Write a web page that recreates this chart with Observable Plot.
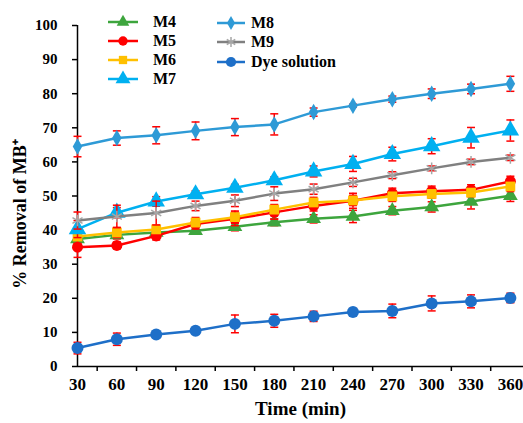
<!DOCTYPE html>
<html>
<head>
<meta charset="utf-8">
<script src="https://cdn.jsdelivr.net/npm/d3@7"></script>
<script src="https://cdn.jsdelivr.net/npm/@observablehq/plot@0.6"></script>
<style>
  body { margin: 0; background: #fff; }
  #wrap { position: relative; width: 523px; height: 423px; overflow: hidden; font-family: "Liberation Serif", "Times New Roman", serif; font-weight: bold; }
  .leg { position: absolute; font-size: 16px; line-height: 16px; white-space: nowrap; display: flex; align-items: center; }
  .leg svg { margin-right: 8px; overflow: visible; }
</style>
</head>
<body>
<div id="wrap"></div>
<script>
// ---- data ----
const time = [30, 60, 90, 120, 150, 180, 210, 240, 270, 300, 330, 360];
const xTickLabels = [30, 60, 90, 120, 150, 180, 210, 240, 270, 300, 330, 360];
const xTickMarks = [45, 75, 105, 135, 165, 195, 225, 255, 285, 315, 345];
const yTicks = [0, 10, 20, 30, 40, 50, 60, 70, 80, 90, 100];

const M4 = [37.4, 38.6, 39.3, 39.8, 41.0, 42.3, 43.3, 44.0, 45.7, 46.8, 48.4, 50.1];
const M4err = [1.5, 1.2, 1.5, 1.0, 1.2, 1.0, 1.2, 1.8, 1.2, 1.5, 2.2, 1.7];
const M5 = [35.0, 35.5, 38.3, 41.8, 43.3, 45.2, 47.1, 48.6, 50.8, 51.4, 51.8, 54.3];
const M5err = [3.0, 1.0, 1.2, 1.5, 2.0, 2.0, 1.5, 2.2, 1.5, 1.5, 1.5, 1.5];
const M6 = [38.1, 39.3, 40.2, 42.2, 43.8, 46.0, 48.1, 48.7, 49.9, 50.6, 51.0, 52.8];
const M6err = [2.0, 1.5, 1.2, 1.5, 1.8, 1.5, 1.5, 1.5, 1.5, 1.2, 1.2, 1.5];
const M7 = [40.3, 45.1, 48.4, 50.5, 52.4, 54.6, 57.2, 59.4, 62.3, 64.6, 67.1, 69.2];
const M7err = [2.5, 1.5, 1.4, 1.0, 1.0, 1.0, 1.6, 2.2, 2.0, 2.2, 3.0, 3.1];
const M8 = [64.5, 67.0, 67.8, 69.1, 70.2, 71.0, 74.6, 76.5, 78.4, 80.0, 81.4, 82.9];
const M8err = [3.0, 2.1, 2.5, 2.6, 2.5, 3.1, 1.2, 0.4, 0.9, 1.4, 1.4, 2.2];
const M9 = [42.8, 44.0, 45.0, 47.1, 48.6, 50.7, 52.0, 54.0, 56.1, 58.1, 60.0, 61.2];
const M9err = [2.5, 3.3, 3.5, 1.4, 1.7, 2.0, 1.5, 1.2, 1.0, 0.7, 0.8, 0.8];
const Dye = [5.4, 8.0, 9.4, 10.5, 12.5, 13.4, 14.7, 16.0, 16.3, 18.5, 19.1, 20.1];
const DyeErr = [1.7, 1.8, 0.8, 0.5, 2.6, 1.9, 1.5, 1.0, 2.0, 2.2, 1.9, 1.4];

const seriesNames = ["M4", "M5", "M6", "M7", "M8", "M9", "Dye solution"];
const seriesValues = [M4, M5, M6, M7, M8, M9, Dye];
const seriesErrors = [M4err, M5err, M6err, M7err, M8err, M9err, DyeErr];

// ---- styles ----
const styles = {
  "M4": {color: "#3DA53D", fill: "#3DA53D", stroke: "none", symbol: "triangle", r: 5.5},
  "M5": {color: "#FF0000", fill: "#FF0000", stroke: "none", symbol: "circle", r: 5.5},
  "M6": {color: "#FFC000", fill: "#FFC000", stroke: "none", symbol: "square", r: 5.5},
  "M7": {color: "#00B0F0", fill: "#00B0F0", stroke: "none", symbol: "triangle", r: 6.5},
  "M8": {color: "#2E9AD6", fill: "#2E9AD6", stroke: "none", symbol: "diamond", r: 5},
  "M9": {color: "#808080", fill: "none", stroke: "#A6A6A6", symbol: "asterisk", r: 5.5},
  "Dye solution": {color: "#1E6FC8", fill: "#1E6FC8", stroke: "none", symbol: "circle", r: 6}
};

const rows = [];
seriesNames.forEach((s, i) => time.forEach((t, j) => rows.push({
  series: s, time: t, value: seriesValues[i][j],
  lo: seriesValues[i][j] - seriesErrors[i][j], hi: seriesValues[i][j] + seriesErrors[i][j]
})));

const capSymbol = {
  draw(ctx, size) { const r = Math.sqrt(size / Math.PI); ctx.moveTo(-r, 0); ctx.lineTo(r, 0); }
};

const marks = [
  Plot.ruleX([30], {stroke: "#000", strokeWidth: 1.5}),
  Plot.ruleY([0], {stroke: "#000", strokeWidth: 1.5}),
  Plot.axisY({ticks: yTicks, tickSize: 5, tickPadding: 15, fontSize: 15, label: null, strokeWidth: 1.5}),
  Plot.axisX({ticks: xTickLabels, tickSize: 0, tickPadding: 11, fontSize: 17, label: null}),
  Plot.axisX({ticks: xTickMarks, tickSize: 5, tickFormat: () => "", label: null, strokeWidth: 1.5}),
  Plot.text(["Time (min)"], {frameAnchor: "bottom", dy: 48, fontSize: 19, fill: "#000"}),
  Plot.text(["% Removal of MB⁺"], {frameAnchor: "left", textAnchor: "middle", dx: -57, dy: 18, rotate: -90, fontSize: 18, fill: "#000"})
];

seriesNames.forEach(s => {
  const st = styles[s];
  const d = rows.filter(r => r.series === s);
  marks.push(Plot.line(d, {x: "time", y: "value", stroke: st.color, strokeWidth: 2.5}));
  marks.push(Plot.ruleX(d, {x: "time", y1: "lo", y2: "hi", stroke: "#FF0000", strokeWidth: 1.5}));
  marks.push(Plot.dot(d, {x: "time", y: "lo", symbol: capSymbol, r: 4, stroke: "#FF0000", strokeWidth: 1.5}));
  marks.push(Plot.dot(d, {x: "time", y: "hi", symbol: capSymbol, r: 4, stroke: "#FF0000", strokeWidth: 1.5}));
  marks.push(Plot.dot(d, {x: "time", y: "value", symbol: st.symbol, r: st.r, fill: st.fill, stroke: st.stroke, strokeWidth: 1.5}));
});

const chart = Plot.plot({
  width: 523,
  height: 423,
  marginLeft: 77,
  marginRight: 0,
  marginTop: 25,
  marginBottom: 57,
  style: {fontFamily: "'Liberation Serif', 'Times New Roman', serif", fontWeight: "bold", color: "#000", background: "#fff", overflow: "visible"},
  x: {domain: [30, 370]},
  y: {domain: [0, 100]},
  marks
});
const wrap = document.getElementById("wrap");
wrap.appendChild(chart);

// ---- legend ----
const legendPos = {
  "M4": [108, 22], "M5": [108, 41], "M6": [108, 60], "M7": [108, 79],
  "M8": [217, 23], "M9": [217, 42], "Dye solution": [217, 62]
};
seriesNames.forEach(s => {
  const st = styles[s];
  const [lx, ly] = legendPos[s];
  const first = s === "M4" || s === "M5" || s === "M6" || s === "M7";
  const w = first ? 30 : 28;
  const gap = first ? 15 : 6;
  const div = document.createElement("div");
  div.className = "leg";
  div.style.left = lx + "px";
  div.style.top = (ly - 8) + "px";
  const r = st.r * 0.85;
  const path = {circle: d3.symbolCircle, triangle: d3.symbolTriangle, square: d3.symbolSquare, diamond: d3.symbolDiamond, asterisk: d3.symbolAsterisk}[st.symbol];
  const pd = d3.symbol(path, Math.PI * r * r)();
  div.innerHTML = `<svg width="${w}" height="16" style="margin-right:${gap}px"><line x1="0" x2="${w}" y1="8" y2="8" stroke="${st.color}" stroke-width="2.5"/><path transform="translate(${w / 2},8)" d="${pd}" fill="${st.fill}" stroke="${st.stroke}" stroke-width="1.5"/></svg><span>${s}</span>`;
  wrap.appendChild(div);
});
</script>
</body>
</html>
